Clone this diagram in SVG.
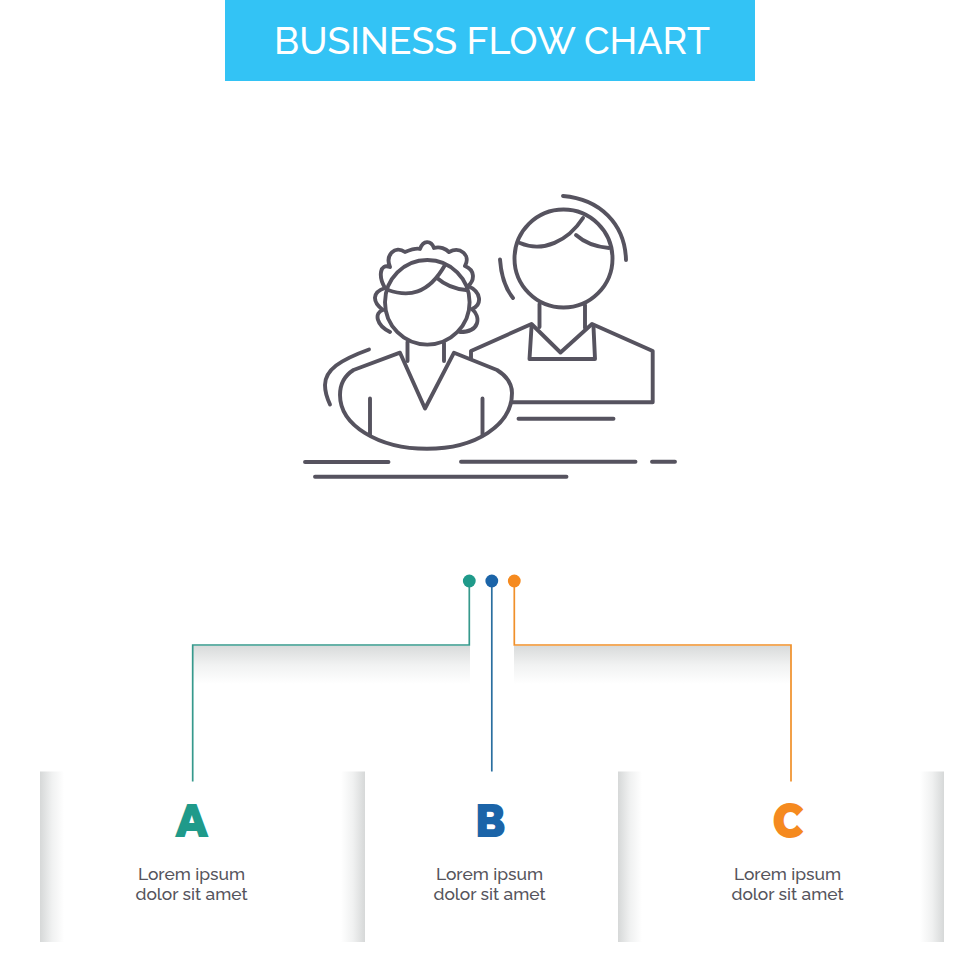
<svg xmlns="http://www.w3.org/2000/svg" width="980" height="980" viewBox="0 0 980 980">
<style>
.ic{fill:none;stroke:#56535f;stroke-width:3.9;stroke-linecap:round;stroke-linejoin:round}
.t{font-family:Raleway,Lato,"Open Sans",sans-serif;font-size:17.4px;fill:#55545c;text-anchor:middle;font-weight:500}
.l{font-family:Montserrat,Lato,"Liberation Sans",sans-serif;font-size:46px;font-weight:900;text-anchor:middle}
.c{fill:none;stroke-width:1.7}
</style>
<defs>
<linearGradient id="sl" x1="0" x2="1" y1="0" y2="0"><stop offset="0" stop-color="#d6d8d8"/><stop offset=".5" stop-color="#f0f1f1"/><stop offset="1" stop-color="#fff"/></linearGradient>
<linearGradient id="sr" x1="1" x2="0" y1="0" y2="0"><stop offset="0" stop-color="#d6d8d8"/><stop offset=".5" stop-color="#f0f1f1"/><stop offset="1" stop-color="#fff"/></linearGradient>
<linearGradient id="sd" x1="0" x2="0" y1="0" y2="1"><stop offset="0" stop-color="#d9dbdb"/><stop offset=".5" stop-color="#f1f2f2"/><stop offset="1" stop-color="#fff"/></linearGradient>
</defs>
<rect width="980" height="980" fill="#fff"/>
<g id="header">
<rect x="225" y="0" width="530" height="81" fill="#33c3f5"/>
<text x="492" y="54" font-family="Raleway,Lato,'Open Sans',sans-serif" font-size="36.5" font-weight="500" fill="#fff" text-anchor="middle" textLength="436" lengthAdjust="spacingAndGlyphs">BUSINESS FLOW CHART</text>
</g>
<g id="icon" class="ic">
<circle cx="563.5" cy="258.5" r="49"/>
<path d="M520 243C543 253 568 241 583 218M576 235C586 244 597 247 609 248"/>
<path d="M563 196C600 199 625 224 626 260M500 259.5C501 274 505 288 513 298"/>
<path d="M539.5 304V327M585 305V328"/>
<path d="M471 358V351L531.5 324L560.5 352.5L592 324L652.7 351V402.3H512"/>
<path d="M531.5 327L529.5 359H595L593.5 327"/>
<path d="M518.5 418.7H613.5M305 462H388.5M461 461.7H635.5M652 461.7H675M315 476.7H566.5"/>
<circle cx="427.3" cy="302.3" r="42.3"/>
<path d="M388 290C408 297 428 295 445 265M437 278C445 285 455 289 466 290"/>
<path d="M390 332C376 325 374 313 383 310C372 302 372 292 385 288C378 276 380 263 390 267C385 255 395 245 405 252C410 250 417 248 420 249C423 240 431 240 434 248C440 246 446 249 449 252C460 246 471 255 465 266C475 270 475 280 468 286C482 292 482 305 472 309C481 317 480 332 460 332"/>
<path d="M400 352.7L353.5 370C344 376 340 384 340 395C340 425 378 448.8 427 448.8C476 448.8 512 425 512 393C512 382 505 375 497 370L454 352.7L425 408.5Z"/>
<path d="M407.5 342V361M444 343V361M370 398.5V435M482.5 398.5V435"/>
<path d="M369 349.5C340 360 325 370 325 385C325 392 327 398 330 404.5"/>
</g>
<g id="shadows">
<rect x="193" y="646" width="277" height="38" fill="url(#sd)"/>
<rect x="514" y="646" width="277" height="38" fill="url(#sd)"/>
</g>
<g id="connectors">
<path class="c" stroke="#36998c" d="M469.3 581V645H192.7V781.5"/>
<path class="c" stroke="#2a6f9f" d="M491.8 581V771.5"/>
<path class="c" stroke="#f0902a" d="M514.3 581V645H791V781.5"/>
</g>
<g id="dots">
<circle cx="469.3" cy="581" r="6.4" fill="#1f9a8a"/>
<circle cx="491.8" cy="581" r="6.4" fill="#1b64a8"/>
<circle cx="514.3" cy="581" r="6.4" fill="#f58a1f"/>
</g>
<g id="node-a">
<rect x="40" y="771.5" width="24" height="170.5" fill="url(#sl)"/>
<rect x="341" y="771.5" width="24" height="170.5" fill="url(#sr)"/>
<text class="l" x="191.7" y="836.5" fill="#1f9a8a" textLength="32" lengthAdjust="spacingAndGlyphs">A</text>
<text class="t" x="191.5" y="880">Lorem ipsum</text>
<text class="t" x="191.5" y="900">dolor sit amet</text>
</g>
<g id="node-b">
<text class="l" x="490.5" y="836.5" fill="#1b64a8" textLength="30" lengthAdjust="spacingAndGlyphs">B</text>
<text class="t" x="489.5" y="880">Lorem ipsum</text>
<text class="t" x="489.5" y="900">dolor sit amet</text>
</g>
<g id="node-c">
<rect x="618" y="771.5" width="24" height="170.5" fill="url(#sl)"/>
<rect x="920" y="771.5" width="24" height="170.5" fill="url(#sr)"/>
<text class="l" x="788" y="836.5" fill="#f58a1f" textLength="31" lengthAdjust="spacingAndGlyphs">C</text>
<text class="t" x="787.5" y="880">Lorem ipsum</text>
<text class="t" x="787.5" y="900">dolor sit amet</text>
</g>
</svg>
